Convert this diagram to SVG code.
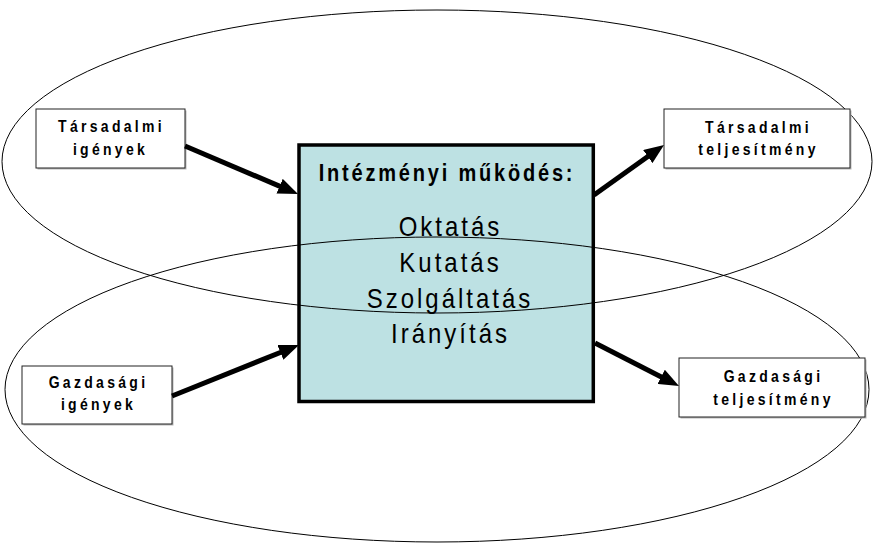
<svg xmlns="http://www.w3.org/2000/svg" width="874" height="543" viewBox="0 0 874 543">
  <defs>
    <marker id="head" markerUnits="userSpaceOnUse" markerWidth="20" markerHeight="16" refX="10" refY="8" orient="auto">
      <path d="M0,0 L20,8 L0,16 z" fill="#000"/>
    </marker>
    <style>
      .sys { fill: none; stroke: #000; stroke-width: 1; }
      .core { fill: #bde1e3; stroke: #000; stroke-width: 3.5; }
      .box { fill: #fff; stroke: #222; stroke-width: 1; }
      .shadow { fill: #b8b8b8; }
      .arrow { stroke: #000; stroke-width: 5; fill: none; marker-end: url(#head); }
      text { font-family: "Liberation Sans", Arial, sans-serif; fill: #000; text-anchor: middle; }
      .lbl { font-size: 14px; font-weight: bold; letter-spacing: 3.3px; }
      .ttl { font-size: 20px; font-weight: bold; letter-spacing: 2.8px; }
      .act { font-size: 24px; letter-spacing: 3px; }
    </style>
  </defs>

  <rect width="874" height="543" fill="#fff"/>

  <!-- central process block -->
  <g id="intezmeny">
    <rect class="core" x="299" y="145" width="294.3" height="256.5"/>
    <text class="ttl" transform="translate(447,181) scale(1,1.15)">Intézményi működés:</text>
    <text class="act" transform="translate(450.5,236) scale(1,1.15)">Oktatás</text>
    <text class="act" transform="translate(450.5,272) scale(1,1.15)">Kutatás</text>
    <text class="act" transform="translate(450,308) scale(1,1.15)">Szolgáltatás</text>
    <text class="act" transform="translate(450.5,343) scale(1,1.15)">Irányítás</text>
  </g>

  <!-- the two overlapping environments -->
  <g id="tarsadalom">
    <ellipse class="sys" cx="437" cy="161.5" rx="435" ry="151.5"/>
  </g>
  <g id="gazdasag">
    <ellipse class="sys" cx="437" cy="389.5" rx="432" ry="152.5"/>
  </g>

  <!-- inputs and outputs -->
  <g id="tarsadalmi-igenyek">
    <rect class="shadow" x="37.5" y="110.5" width="149" height="59"/>
    <rect class="box" x="36" y="109" width="149" height="59"/>
    <text class="lbl" transform="translate(111.5,132) scale(1,1.15)">Társadalmi</text>
    <text class="lbl" transform="translate(110.5,155) scale(1,1.15)">igények</text>
  </g>
  <g id="tarsadalmi-teljesitmeny">
    <rect class="shadow" x="665.5" y="110.5" width="186" height="59"/>
    <rect class="box" x="664" y="109" width="186" height="59"/>
    <text class="lbl" transform="translate(758.5,132.5) scale(1,1.15)">Társadalmi</text>
    <text class="lbl" transform="translate(758.5,155) scale(1,1.15)">teljesítmény</text>
  </g>
  <g id="gazdasagi-igenyek">
    <rect class="shadow" x="23.5" y="367.5" width="150" height="58"/>
    <rect class="box" x="22" y="366" width="150" height="58"/>
    <text class="lbl" transform="translate(98.5,388) scale(1,1.15)">Gazdasági</text>
    <text class="lbl" transform="translate(98.5,410) scale(1,1.15)">igények</text>
  </g>
  <g id="gazdasagi-teljesitmeny">
    <rect class="shadow" x="680.5" y="359.5" width="186" height="59"/>
    <rect class="box" x="679" y="358" width="186" height="59"/>
    <text class="lbl" transform="translate(773.5,382) scale(1,1.15)">Gazdasági</text>
    <text class="lbl" transform="translate(773.5,405) scale(1,1.15)">teljesítmény</text>
  </g>

  <!-- flows -->
  <g id="connectors">
    <line class="arrow" x1="185" y1="146" x2="288.8" y2="190.1"/>
    <line class="arrow" x1="594" y1="195" x2="655.9" y2="150.8"/>
    <line class="arrow" x1="172" y1="396" x2="289.7" y2="348.7"/>
    <line class="arrow" x1="595" y1="343" x2="670.1" y2="381.4"/>
  </g>
</svg>
